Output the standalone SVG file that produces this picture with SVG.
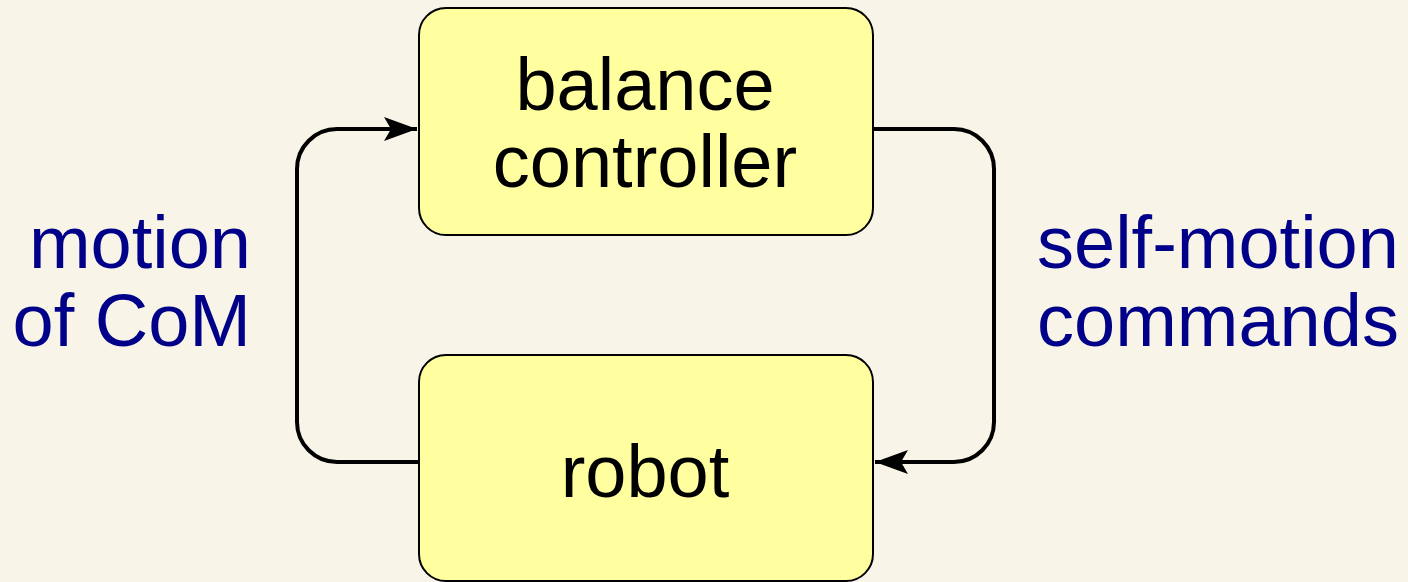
<svg xmlns="http://www.w3.org/2000/svg" width="1408" height="582" viewBox="0 0 1408 582">
<style>
.box{fill:#ffff9f;stroke:#000;stroke-width:2}
.t{font-family:"Liberation Sans",Arial,sans-serif;font-size:74px;fill:#000;text-anchor:middle}
.lbl{font-family:"Liberation Sans",Arial,sans-serif;font-size:74px;fill:#000088}
.c{fill:none;stroke:#000;stroke-width:4}
</style>
<defs>
<marker id="ah" markerUnits="userSpaceOnUse" markerWidth="34" markerHeight="26" refX="33" refY="13" orient="auto">
<path d="M0,1 L33,13 L0,25 L7,13 Z" fill="#000"/>
</marker>
</defs>
<rect width="1408" height="582" fill="#f8f4e8"/>
<g id="connectors">
<path class="c" d="M419,462 H337 A40,40 0 0 1 297,422 V169 A40,40 0 0 1 337,129 H417" marker-end="url(#ah)"/>
<path class="c" d="M873,129 H954 A40,40 0 0 1 994,169 V422 A40,40 0 0 1 954,462 H875" marker-end="url(#ah)"/>
</g>
<g id="balance-controller">
<rect class="box" x="419" y="8" width="454" height="227" rx="27"/>
<text class="t" x="645" y="110">balance</text>
<text class="t" x="645" y="187">controller</text>
</g>
<g id="robot">
<rect class="box" x="419" y="355" width="454" height="226" rx="27"/>
<text class="t" x="645" y="497">robot</text>
</g>
<g id="label-left">
<text class="lbl" x="251" y="268" text-anchor="end">motion</text>
<text class="lbl" x="251" y="346" text-anchor="end">of CoM</text>
</g>
<g id="label-right">
<text class="lbl" x="1037" y="268">self-motion</text>
<text class="lbl" x="1037" y="346">commands</text>
</g>
</svg>
